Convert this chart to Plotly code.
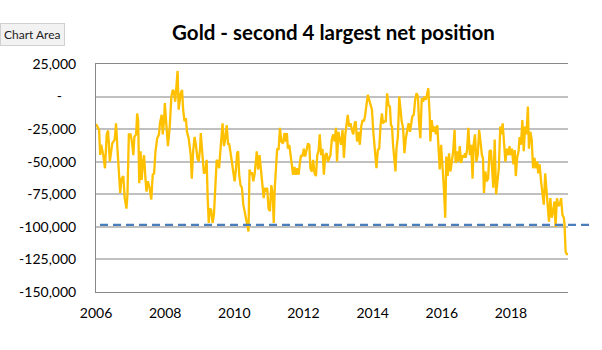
import plotly.graph_objects as go

# ---- data (decimal years, net position in contracts) ----
years = [
    2006.00, 2006.09, 2006.12, 2006.15, 2006.21, 2006.26, 2006.31, 2006.35, 2006.40, 2006.47,
    2006.54, 2006.58, 2006.62, 2006.66, 2006.70, 2006.74, 2006.79, 2006.83, 2006.88, 2006.91,
    2006.95, 2007.00, 2007.04, 2007.08, 2007.11, 2007.16, 2007.19, 2007.22, 2007.25, 2007.29,
    2007.32, 2007.36, 2007.39, 2007.43, 2007.46, 2007.50, 2007.55, 2007.60, 2007.64, 2007.68,
    2007.72, 2007.77, 2007.82, 2007.85, 2007.90, 2007.93, 2007.97, 2007.99, 2008.04, 2008.08,
    2008.13, 2008.18, 2008.22, 2008.25, 2008.29, 2008.33, 2008.36, 2008.39, 2008.42, 2008.45,
    2008.49, 2008.52, 2008.56, 2008.60,
    2008.63, 2008.68, 2008.74, 2008.77, 2008.81, 2008.85, 2008.89, 2008.93, 2008.97, 2009.01,
    2009.03, 2009.08, 2009.12, 2009.16, 2009.20, 2009.23, 2009.26, 2009.29, 2009.33, 2009.37,
    2009.41, 2009.45, 2009.49, 2009.53, 2009.56, 2009.61, 2009.66, 2009.70, 2009.74, 2009.78,
    2009.82, 2009.85, 2009.89, 2009.93, 2009.97, 2010.01, 2010.05, 2010.08, 2010.11, 2010.14,
    2010.18, 2010.22, 2010.26, 2010.30, 2010.34, 2010.37, 2010.41, 2010.44, 2010.48, 2010.51,
    2010.55, 2010.59, 2010.62, 2010.65, 2010.69, 2010.73, 2010.77, 2010.81, 2010.85, 2010.88,
    2010.91, 2010.95, 2010.99, 2011.03, 2011.07, 2011.11, 2011.14, 2011.17, 2011.20, 2011.24,
    2011.28, 2011.32, 2011.36,
    2011.41, 2011.45, 2011.49, 2011.52, 2011.55, 2011.59, 2011.63, 2011.66, 2011.70, 2011.74,
    2011.78, 2011.82, 2011.86, 2011.90, 2011.93, 2011.97, 2012.01, 2012.05, 2012.09, 2012.13,
    2012.17, 2012.20, 2012.24, 2012.28, 2012.32, 2012.36, 2012.40, 2012.44, 2012.47, 2012.51,
    2012.55, 2012.59, 2012.63, 2012.67, 2012.71, 2012.74, 2012.78, 2012.82, 2012.86, 2012.90,
    2012.94, 2012.97, 2013.01, 2013.05, 2013.09, 2013.13, 2013.17, 2013.21, 2013.24, 2013.28,
    2013.32, 2013.36, 2013.40, 2013.44, 2013.48, 2013.51, 2013.55, 2013.59, 2013.63, 2013.67,
    2013.71, 2013.75, 2013.78, 2013.82, 2013.86, 2013.90, 2013.94, 2013.98, 2014.02,
    2014.07, 2014.11, 2014.15, 2014.19, 2014.23, 2014.27, 2014.30, 2014.34, 2014.38, 2014.42,
    2014.46, 2014.50, 2014.53, 2014.56, 2014.59, 2014.63, 2014.66, 2014.69, 2014.73, 2014.77,
    2014.81, 2014.84, 2014.88, 2014.92, 2014.96, 2015.00, 2015.04, 2015.08, 2015.11, 2015.15,
    2015.19, 2015.23, 2015.27, 2015.31, 2015.34, 2015.38, 2015.42, 2015.46, 2015.50, 2015.54,
    2015.58, 2015.61, 2015.65, 2015.67, 2015.71, 2015.75, 2015.79, 2015.83, 2015.87, 2015.90,
    2015.94, 2015.98, 2016.02, 2016.06, 2016.10, 2016.13, 2016.17, 2016.21, 2016.25, 2016.29,
    2016.33, 2016.37, 2016.40, 2016.44, 2016.48, 2016.52, 2016.56, 2016.60, 2016.64, 2016.67,
    2016.69, 2016.73, 2016.77, 2016.81, 2016.85, 2016.89, 2016.92, 2016.96, 2017.00, 2017.04,
    2017.08, 2017.12, 2017.16, 2017.19, 2017.22, 2017.26, 2017.30, 2017.34, 2017.38, 2017.42,
    2017.45, 2017.49, 2017.53, 2017.57, 2017.61, 2017.65, 2017.69, 2017.72, 2017.76, 2017.80,
    2017.84, 2017.88, 2017.92, 2017.96, 2017.99, 2018.03, 2018.07, 2018.11, 2018.14, 2018.18,
    2018.22, 2018.25, 2018.29, 2018.33, 2018.37, 2018.41, 2018.45, 2018.49, 2018.52, 2018.56,
    2018.60, 2018.64, 2018.68, 2018.72, 2018.76, 2018.79, 2018.83, 2018.87, 2018.91, 2018.95,
    2018.99, 2019.03, 2019.06, 2019.10, 2019.14, 2019.18, 2019.22, 2019.26, 2019.29, 2019.33,
    2019.37, 2019.41, 2019.45, 2019.49, 2019.53, 2019.55, 2019.58, 2019.62, 2019.64,
]

net_position = [
    -21000, -25600, -44800, -37000, -45000, -55000, -29000, -26000, -50000, -36000,
    -33000, -20500, -40000, -60000, -74000, -63000, -61000, -78000, -86000, -75000,
    -29000, -29000, -35000, -45000, -31000, -29000, -13000, -19000, -66500, -42000,
    -64000, -50000, -45000, -63000, -73000, -65000, -70000, -79000, -60000, -59000,
    -42000, -32000, -29000, -20500, -14000, -29000, -18000, -5000, -22000, -38000,
    -24000, 0, 5000, 4000, -4000, 6400, 19700, -10000, -1000, 2500,
    5000, -10000, -19000, -16600,
    -27000, -32000, -45000, -63000, -42000, -31000, -37000, -47000, -50000, -40000,
    -28000, -45000, -59000, -58000, -48600, -78000, -97000, -86000, -87000, -97000,
    -91000, -70000, -48600, -50000, -55000, -37000, -20500, -38000, -32000, -22000,
    -37000, -36000, -45000, -50000, -58000, -65000, -55000, -43500, -42000, -60000,
    -68000, -70000, -83000, -88000, -93000, -96000, -103500, -56000, -60000, -58000,
    -65000, -59000, -52000, -42000, -56000, -45000, -56000, -68000, -78000, -70000,
    -73000, -70000, -86000, -88000, -68000, -75000, -97000, -70000, -52000, -40000,
    -41000, -24000, -34500,
    -36000, -28000, -34500, -28000, -40000, -37000, -45000, -52000, -60000, -54000,
    -60000, -55000, -60000, -50000, -45000, -46000, -40000, -46000, -42000, -36000,
    -37000, -55000, -57500, -48600, -59000, -61000, -45000, -41000, -29000, -45000,
    -40000, -60000, -45000, -43500, -50000, -47000, -45000, -33000, -29000, -34500,
    -24000, -50000, -27000, -33000, -37000, -25600, -47000, -29000, -23000, -14000,
    -23000, -20500, -25600, -29000, -20500, -19000, -34500, -27000, -37000, -23000,
    -18000, -19000, -15000, -6400, 1300, -2500, -6400, -10000, -27000,
    -40000, -55000, -41000, -40000, -22000, -13000, -20500, -19000, -19000, 2500,
    -6400, -7700, -22000, -23000, -37000, -50000, -57500, -40000, -31000, 0,
    -13000, -19000, -24000, -43500, -32000, -27000, -20500, -27000, -23000, -15000,
    -14000, -2500, 2500, 0, -19000, -32000, -1300, -4000, 0, -2500,
    2500, 6400, -14000, -34500, -18000, -27000, -23000, -29000, -22000, -41000,
    -56000, -37000, -50000, -70000, -93000, -46000, -61000, -43500, -57500, -50000,
    -42000, -25600, -51000, -42000, -50000, -38000, -51000, -45000, -47000, -43500,
    -47000, -41000, -24000, -45000, -37000, -63000, -37000, -29000, -50000, -45000,
    -25600, -34500, -45000, -47000, -74000, -57500, -65000, -63000, -42000, -41000,
    -52000, -70000, -33000, -75000, -65000, -55000, -23000, -29000, -20500, -34500,
    -50000, -40000, -45000, -38000, -45000, -40000, -52000, -41000, -61000, -47000,
    -42000, -31000, -37000, -18000, -42000, -23000, -29000, -7700, -40000, -27000,
    -33000, -55000, -47000, -55000, -50000, -59000, -52000, -65000, -75000, -83000,
    -59000, -75000, -88000, -96000, -78000, -93000, -88000, -80500, -100000, -78000,
    -84000, -83000, -78000, -91000, -93000, -98500, -119000, -121500, -120000,
]

threshold_level = [-98500]
y_tick_values = [25000, 0, -25000, -50000, -75000, -100000, -125000, -150000]
y_tick_labels = ["25,000", "-\u00a0\u00a0\u00a0\u00a0", "-25,000", "-50,000", "-75,000",
                 "-100,000", "-125,000", "-150,000"]
x_tick_values = [2006, 2008, 2010, 2012, 2014, 2016, 2018]
x_tick_labels = ["2006", "2008", "2010", "2012", "2014", "2016", "2018"]
title_text = "Gold - second 4 largest net position"

FONT = "Lato, 'Open Sans', sans-serif"

fig = go.Figure()
fig.add_trace(go.Scatter(
    x=years, y=net_position, mode="lines",
    line=dict(color="#FFC000", width=2.3),
    hoverinfo="skip", showlegend=False,
))

for lvl in threshold_level:
    fig.add_shape(type="line", xref="paper", yref="y",
                  x0=0.0085, x1=1.053, y0=lvl, y1=lvl,
                  line=dict(color="#4A7EBB", width=2.2, dash="8px,5px"),
                  layer="above")

fig.update_layout(
    width=602, height=350,
    margin=dict(l=96, r=34, t=64, b=58),
    paper_bgcolor="white", plot_bgcolor="white",
    font=dict(family=FONT, size=14, color="#000000"),
    title=dict(text="<b>" + title_text + "</b>", xref="container", yref="container",
               x=0.554, y=0.905, xanchor="center", yanchor="middle",
               font=dict(family=FONT, size=20.5, color="#000000")),
    xaxis=dict(range=[2006, 2019.65], tickvals=x_tick_values, ticktext=x_tick_labels,
               showgrid=False, zeroline=False, showline=True, mirror=True,
               linecolor="#888888", linewidth=1, ticks="", ticklabelstandoff=8,
               tickfont=dict(family=FONT, size=14, color="#000000")),
    yaxis=dict(range=[-150000, 25000], tickvals=y_tick_values, ticktext=y_tick_labels,
               showgrid=True, gridcolor="#C0C0C0", gridwidth=1.6,
               zeroline=False, showline=True, mirror=False,
               linecolor="#888888", linewidth=1, ticks="", ticklabelstandoff=16,
               tickfont=dict(family=FONT, size=14, color="#000000")),
    annotations=[dict(text="Chart Area", xref="paper", yref="paper",
                      x=-96/472, y=(292-34)/228, xanchor="left", yanchor="middle",
                      showarrow=False, bgcolor="#F2F2F2", bordercolor="#D0D0D0",
                      borderwidth=1, borderpad=3,
                      font=dict(family=FONT, size=12, color="#222222"))],
)

fig.write_html("out.html")
